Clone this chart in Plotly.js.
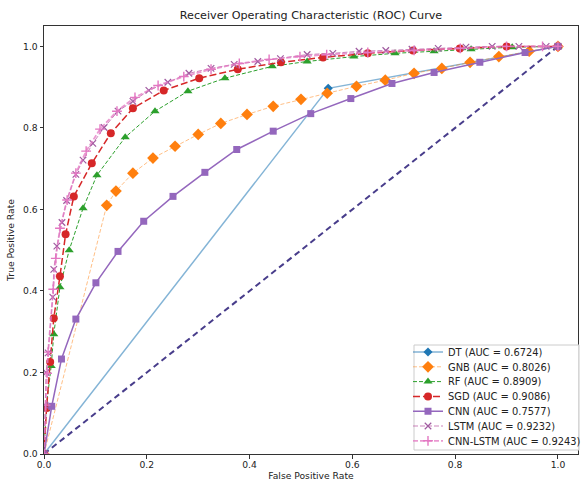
<!DOCTYPE html>
<html>
<head>
<meta charset="utf-8">
<script src="https://cdn.plot.ly/plotly-3.0.1.min.js"></script>
<style>html,body{margin:0;padding:0;background:#fff;}#chart{width:582px;height:486px;}</style>
</head>
<body>
<div id="chart"></div>
<script>
// ---- data ----
const dtFpr = [0, 0.553, 1];
const dtTpr = [0, 0.897, 1];

const gnbFpr = [0, 0.122, 0.140, 0.173, 0.212, 0.255, 0.300, 0.344, 0.395, 0.446, 0.500, 0.551, 0.608, 0.664, 0.720, 0.774, 0.829, 0.885, 0.944, 1];
const gnbTpr = [0, 0.610, 0.645, 0.689, 0.726, 0.755, 0.784, 0.811, 0.833, 0.853, 0.870, 0.885, 0.902, 0.917, 0.934, 0.946, 0.961, 0.975, 0.988, 1];

const rfFpr = [0, 0.004, 0.014, 0.019, 0.031, 0.049, 0.076, 0.103, 0.158, 0.216, 0.280, 0.352, 0.444, 0.512, 0.603, 0.683, 0.759, 0.831, 0.911, 1];
const rfTpr = [0, 0.110, 0.216, 0.294, 0.409, 0.500, 0.603, 0.684, 0.777, 0.841, 0.890, 0.922, 0.951, 0.963, 0.975, 0.983, 0.988, 0.993, 0.998, 1];

const sgdFpr = [0, 0.005, 0.012, 0.019, 0.031, 0.042, 0.058, 0.093, 0.130, 0.173, 0.233, 0.302, 0.377, 0.461, 0.543, 0.630, 0.718, 0.809, 0.900, 1];
const sgdTpr = [0, 0.113, 0.226, 0.333, 0.436, 0.539, 0.632, 0.713, 0.787, 0.848, 0.892, 0.922, 0.944, 0.961, 0.973, 0.983, 0.990, 0.995, 1.0, 1];

const cnnFpr = [0, 0.015, 0.034, 0.062, 0.101, 0.144, 0.194, 0.251, 0.313, 0.375, 0.446, 0.519, 0.597, 0.677, 0.759, 0.848, 0.936, 1];
const cnnTpr = [0, 0.117, 0.233, 0.331, 0.420, 0.497, 0.571, 0.632, 0.691, 0.747, 0.792, 0.835, 0.872, 0.909, 0.936, 0.961, 0.985, 1];

const lstmFpr = [0, 0.002, 0.004, 0.008, 0.017, 0.019, 0.025, 0.035, 0.044, 0.062, 0.076, 0.095, 0.117, 0.144, 0.173, 0.204, 0.241, 0.282, 0.325, 0.370, 0.416, 0.460, 0.512, 0.562, 0.613, 0.665, 0.716, 0.767, 0.821, 0.872, 0.924, 0.977, 1];
const lstmTpr = [0, 0.120, 0.200, 0.248, 0.385, 0.453, 0.510, 0.568, 0.622, 0.686, 0.721, 0.762, 0.801, 0.841, 0.865, 0.892, 0.912, 0.934, 0.946, 0.956, 0.963, 0.970, 0.980, 0.983, 0.988, 0.990, 0.993, 0.995, 0.998, 1.0, 1.0, 1.0, 1];

const cnnLstmFpr = [0, 0.003, 0.006, 0.008, 0.018, 0.023, 0.031, 0.045, 0.062, 0.082, 0.109, 0.142, 0.177, 0.222, 0.272, 0.325, 0.380, 0.438, 0.498, 0.550, 0.630, 0.720, 0.810, 0.900, 0.970, 1];
const cnnLstmTpr = [0, 0.120, 0.198, 0.250, 0.404, 0.480, 0.554, 0.623, 0.689, 0.743, 0.797, 0.841, 0.875, 0.904, 0.926, 0.944, 0.958, 0.968, 0.975, 0.980, 0.985, 0.990, 0.995, 1.0, 1.0, 1];

const chanceX = [0, 1];
const chanceY = [0, 1];

const modelNames = ["DT (AUC = 0.6724)", "GNB (AUC = 0.8026)", "RF (AUC = 0.8909)", "SGD (AUC = 0.9086)", "CNN (AUC = 0.7577)", "LSTM (AUC = 0.9232)", "CNN-LSTM (AUC = 0.9243)"];
const tickVals = [0, 0.2, 0.4, 0.6, 0.8, 1.0];
const tickText = ["0.0", "0.2", "0.4", "0.6", "0.8", "1.0"];

// ---- traces ----
const traces = [
  {x: chanceX, y: chanceY, mode: "lines", showlegend: false, hoverinfo: "skip",
   line: {color: "#483d8b", width: 2, dash: "6px,4px"}},
  {x: dtFpr, y: dtTpr, name: modelNames[0], mode: "lines+markers", legend: "legend",
   line: {color: "rgba(31,119,180,0.55)", width: 1.5},
   marker: {symbol: "diamond", size: 7, color: "#1f77b4"}},
  {x: gnbFpr, y: gnbTpr, name: modelNames[1], mode: "lines+markers", legend: "legend2",
   line: {color: "rgba(255,127,14,0.5)", width: 1, dash: "4px,2px"},
   marker: {symbol: "diamond", size: 9, color: "#ff7f0e"}},
  {x: rfFpr, y: rfTpr, name: modelNames[2], mode: "lines+markers", legend: "legend3",
   line: {color: "#2ca02c", width: 1, dash: "4px,2px"},
   marker: {symbol: "triangle-up", size: 8, color: "#2ca02c"}},
  {x: sgdFpr, y: sgdTpr, name: modelNames[3], mode: "lines+markers", legend: "legend4",
   line: {color: "#d62728", width: 1.5, dash: "7px,3px"},
   marker: {symbol: "circle", size: 8, color: "#d62728"}},
  {x: cnnFpr, y: cnnTpr, name: modelNames[4], mode: "lines+markers", legend: "legend5",
   line: {color: "#9467bd", width: 1.5},
   marker: {symbol: "square", size: 7, color: "#9467bd"}},
  {x: lstmFpr, y: lstmTpr, name: modelNames[5], mode: "lines+markers", legend: "legend6",
   line: {color: "rgba(190,100,170,0.8)", width: 1, dash: "5px,2px"},
   marker: {symbol: "x-thin", size: 6.5, color: "rgba(160,90,160,1)", line: {width: 1.2, color: "rgba(160,90,160,1)"}}},
  {x: cnnLstmFpr, y: cnnLstmTpr, name: modelNames[6], mode: "lines+markers", legend: "legend7",
   line: {color: "rgba(227,119,194,0.75)", width: 1.8, dash: "5px,2px"},
   marker: {symbol: "cross-thin", size: 7, color: "#e377c2", line: {width: 1.4, color: "#e377c2"}}}
];

const axisCommon = {
  showgrid: false, zeroline: false, showline: true, linecolor: "#333", linewidth: 1, mirror: true,
  ticks: "outside", ticklen: 3.5, tickcolor: "#333", tickvals: tickVals, ticktext: tickText,
  tickfont: {size: 9.2, color: "#222"}, automargin: false
};

// plot-area geometry in pixels: left 44, right 578, top 26, bottom 454
const plotL = 44, plotW = 534, plotT = 26, plotB = 454;
const plotH = plotB - plotT;
const legLeftPx = 414, legRightPx = 579, legTopPx = 345, legBotPx = 450;
const legItemsLeftPx = 408;
const firstItemPx = 352, itemStepPx = 14.8;

const layout = {
  width: 582, height: 486,
  margin: {l: plotL, r: 582 - plotL - plotW, t: plotT, b: 486 - plotB, autoexpand: false},
  paper_bgcolor: "#fff", plot_bgcolor: "#fff",
  font: {family: "DejaVu Sans, sans-serif", size: 9.2, color: "#222"},
  title: {text: "Receiver Operating Characteristic (ROC) Curve", font: {size: 11.2, color: "#222"}, x: 0.5, xanchor: "center", xref: "paper", y: 0.969, yanchor: "middle"},
  xaxis: Object.assign({}, axisCommon, {range: [0, 1.039], ticklabelstandoff: -2, title: {text: "False Positive Rate", font: {size: 9.2}, standoff: 3}}),
  yaxis: Object.assign({}, axisCommon, {range: [0, 1.05], title: {text: "True Positive Rate", font: {size: 9.2}, standoff: 6}}),
  shapes: [{type: "rect", xref: "paper", yref: "paper", layer: "above",
            x0: (legLeftPx - plotL) / plotW, x1: (legRightPx - plotL) / plotW,
            y0: (plotB - legBotPx) / plotH, y1: (plotB - legTopPx) / plotH,
            line: {color: "#cccccc", width: 1}, fillcolor: "rgba(255,255,255,0.85)"}],
  showlegend: true
};
const legendKeys = ["legend", "legend2", "legend3", "legend4", "legend5", "legend6", "legend7"];
legendKeys.forEach(function (k, i) {
  layout[k] = {
    x: (legItemsLeftPx - plotL) / plotW, xanchor: "left",
    y: (plotB - (firstItemPx + i * itemStepPx)) / plotH, yanchor: "middle",
    bgcolor: "rgba(0,0,0,0)", borderwidth: 0, font: {size: 9.9, color: "#222"}, itemwidth: 30
  };
});

Plotly.newPlot("chart", traces, layout, {displayModeBar: false, staticPlot: true});
</script>
</body>
</html>
